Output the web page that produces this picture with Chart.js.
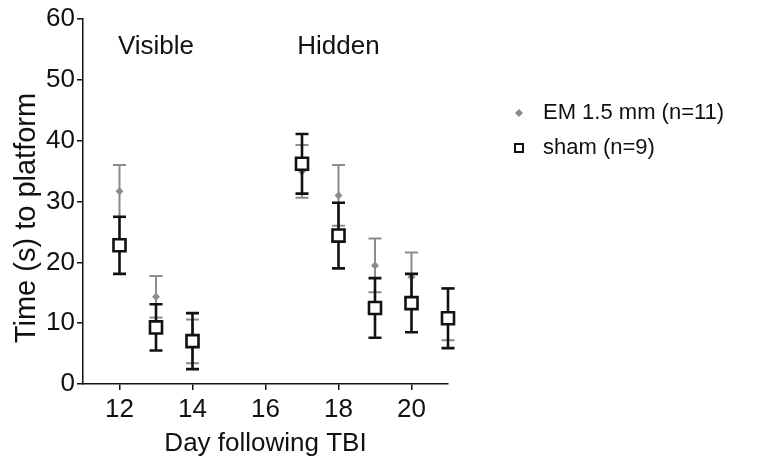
<!DOCTYPE html>
<html lang="en">
<head>
  <meta charset="UTF-8">
  <title>Time to platform</title>
  <script src="https://cdn.jsdelivr.net/npm/chart.js"></script>
  <style>
    body { margin: 0; background: #fff; }
    #wrap { width: 763px; height: 459px; }
  </style>
</head>
<body>
  <div id="wrap"><canvas id="mwmChart" width="763" height="459"></canvas></div>

  <script>
    // data (mean +/- SEM)
    const days = [12, 13, 14, 17, 18, 19, 20, 21];
    const emMean = [31.7, 14.35, 7.0, 34.95, 31.0, 19.5, 17.6, 11.5];
    const emSem = [4.3, 3.4, 3.6, 4.35, 5.0, 4.4, 4.0, 4.3];
    const shamMean = [22.8, 9.3, 7.05, 36.2, 24.4, 12.5, 13.3, 10.8];
    const shamSem = [4.7, 3.8, 4.6, 4.9, 5.4, 4.9, 4.8, 4.9];

    const xTicks = [12, 14, 16, 18, 20];
    const yTicks = [0, 10, 20, 30, 40, 50, 60];
    const seriesLabels = ['EM 1.5 mm (n=11)', 'sham (n=9)'];
    const phaseLabels = ['Visible', 'Hidden'];
    const phaseDays = [13, 18];
    const phaseY = 55.4;

    const grey = '#8c8c8c';
    const ink = '#111111';
    const font = 'Liberation Sans, Arial, sans-serif';

    function toPoints(means) {
      return days.map((d, i) => ({ x: d, y: means[i] }));
    }

    // error bars, drawn just before each dataset's markers
    const errorBars = {
      id: 'errorBars',
      beforeDatasetDraw(chart, args) {
        const ds = chart.data.datasets[args.index];
        const sx = chart.scales.x, sy = chart.scales.y;
        const ctx = chart.ctx;
        ctx.save();
        ctx.strokeStyle = ds.barColor;
        ctx.lineWidth = ds.barWidth;
        ds.data.forEach((p, i) => {
          const x = sx.getPixelForValue(p.x);
          const top = sy.getPixelForValue(p.y + ds.errors[i]);
          const bot = sy.getPixelForValue(p.y - ds.errors[i]);
          ctx.beginPath();
          ctx.moveTo(x, top); ctx.lineTo(x, bot);
          ctx.moveTo(x - 6.5, top); ctx.lineTo(x + 6.5, top);
          ctx.moveTo(x - 6.5, bot); ctx.lineTo(x + 6.5, bot);
          ctx.stroke();
        });
        ctx.restore();
      }
    };

    // phase labels, y title and legend
    const extras = {
      id: 'extras',
      afterDraw(chart) {
        const ctx = chart.ctx;
        const sx = chart.scales.x, sy = chart.scales.y;
        ctx.save();
        ctx.fillStyle = ink;
        ctx.textBaseline = 'middle';

        ctx.font = '26px ' + font;
        ctx.textAlign = 'center';
        phaseLabels.forEach((t, i) => {
          ctx.fillText(t, sx.getPixelForValue(phaseDays[i]), sy.getPixelForValue(phaseY));
        });

        ctx.save();
        ctx.translate(27, 218);
        ctx.rotate(-Math.PI / 2);
        ctx.font = '29px ' + font;
        ctx.fillText('Time (s) to platform', 0, 0);
        ctx.restore();

        // legend
        ctx.font = '22px ' + font;
        ctx.textAlign = 'left';
        const lx = 519, ly = [113, 148];
        ctx.fillStyle = grey;
        ctx.beginPath();
        ctx.moveTo(lx, ly[0] - 4); ctx.lineTo(lx + 4, ly[0]);
        ctx.lineTo(lx, ly[0] + 4); ctx.lineTo(lx - 4, ly[0]);
        ctx.closePath(); ctx.fill();
        ctx.strokeStyle = ink;
        ctx.lineWidth = 2;
        ctx.strokeRect(lx - 4, ly[1] - 4, 8, 8);
        ctx.fillStyle = ink;
        seriesLabels.forEach((t, i) => ctx.fillText(t, 543, ly[i]));
        ctx.restore();
      }
    };

    new Chart(document.getElementById('mwmChart'), {
      type: 'scatter',
      data: {
        datasets: [
          {
            label: seriesLabels[0],
            data: toPoints(emMean),
            errors: emSem,
            barColor: grey,
            barWidth: 2,
            pointStyle: 'rectRot',
            radius: 4,
            backgroundColor: grey,
            borderColor: grey,
            borderWidth: 0,
            order: 2,
            clip: false
          },
          {
            label: seriesLabels[1],
            data: toPoints(shamMean),
            errors: shamSem,
            barColor: ink,
            barWidth: 2.6,
            pointStyle: 'rect',
            radius: 8.5,
            backgroundColor: '#ffffff',
            borderColor: ink,
            borderWidth: 2.6,
            order: 1,
            clip: false
          }
        ]
      },
      options: {
        responsive: false,
        animation: false,
        layout: { padding: { top: 19, right: 315, left: 0, bottom: 0 } },
        plugins: {
          legend: { display: false },
          tooltip: { enabled: false }
        },
        scales: {
          x: {
            type: 'linear',
            min: 11,
            max: 21,
            afterBuildTicks: s => { s.ticks = xTicks.map(v => ({ value: v })); },
            afterFit: s => { s.height = 75; },
            grid: { drawOnChartArea: false, tickLength: 6, color: ink, lineWidth: 1.5 },
            border: { color: ink, width: 1.5 },
            ticks: { color: ink, padding: 4, font: { family: font, size: 26 } },
            title: {
              display: true,
              text: 'Day following TBI',
              color: ink,
              padding: { top: 0, bottom: 0 },
              font: { family: font, size: 26 }
            }
          },
          y: {
            min: 0,
            max: 60,
            afterBuildTicks: s => { s.ticks = yTicks.map(v => ({ value: v })); },
            afterFit: s => { s.width = 83; },
            grid: { drawOnChartArea: false, tickLength: 6, color: ink, lineWidth: 1.5 },
            border: { color: ink, width: 1.5 },
            ticks: { color: ink, padding: 2, font: { family: font, size: 26 } }
          }
        }
      },
      plugins: [errorBars, extras]
    });
  </script>
</body>
</html>
